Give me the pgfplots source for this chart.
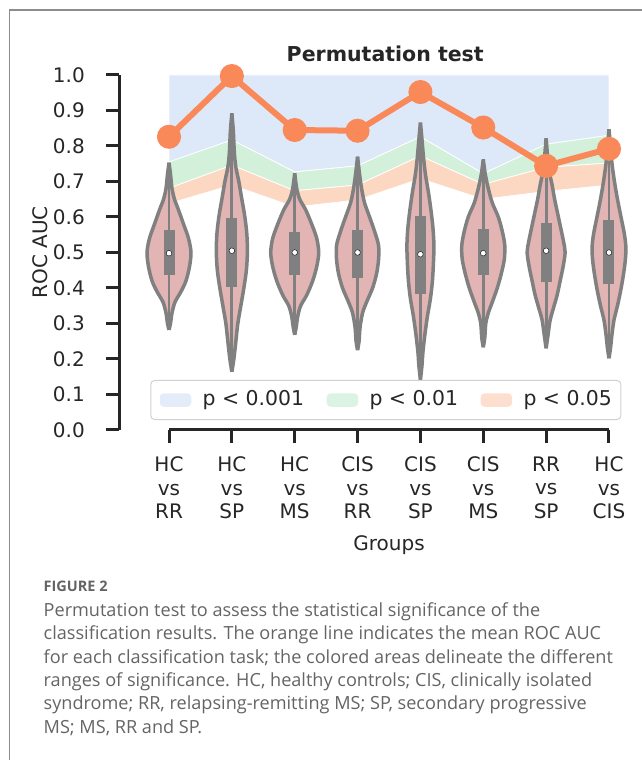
\documentclass[border=0pt]{standalone}
\usepackage{fontspec}
\setmainfont{DejaVu Sans}
\newfontfamily\capfont{Open Sans}
\usepackage{pgfplots}
\usepackage{pgfplotstable}
\pgfplotsset{compat=1.18}

\definecolor{txt}{RGB}{38,38,38}
\definecolor{bandblue}{RGB}{221,233,248}
\definecolor{bandgreen}{RGB}{211,240,219}
\definecolor{bandorange}{RGB}{252,216,194}
\definecolor{vfill}{RGB}{226,180,180}
\definecolor{vgray}{RGB}{128,128,128}
\definecolor{lineorange}{RGB}{250,137,90}
\definecolor{capgray}{RGB}{100,100,100}
\definecolor{framegray}{RGB}{140,140,140}

% violin outlines: y, right x, left x
\pgfplotstableread{
y xr xl
0.282 1 1
0.30 1.024 0.976
0.33 1.048 0.952
0.36 1.095 0.905
0.39 1.191 0.809
0.42 1.270 0.730
0.46 1.326 0.674
0.50 1.350 0.650
0.54 1.310 0.690
0.58 1.231 0.769
0.62 1.151 0.849
0.65 1.087 0.913
0.68 1.048 0.952
0.72 1.024 0.976
0.753 1 1
}\vA
\pgfplotstableread{
y xr xl
0.164 2 2
0.20 2.032 1.968
0.25 2.064 1.936
0.30 2.095 1.905
0.35 2.143 1.857
0.40 2.191 1.809
0.45 2.231 1.769
0.50 2.247 1.753
0.55 2.239 1.761
0.60 2.207 1.793
0.65 2.159 1.841
0.70 2.111 1.889
0.74 2.064 1.936
0.78 2.040 1.960
0.84 2.024 1.976
0.892 2 2
}\vB
\pgfplotstableread{
y xr xl
0.268 3 3
0.29 3.024 2.976
0.32 3.048 2.952
0.35 3.095 2.905
0.38 3.191 2.809
0.42 3.286 2.714
0.46 3.350 2.650
0.50 3.382 2.618
0.54 3.350 2.650
0.58 3.270 2.730
0.62 3.175 2.825
0.65 3.080 2.920
0.68 3.032 2.968
0.723 3 3
}\vC
\pgfplotstableread{
y xr xl
0.225 4 4
0.25 4.024 3.976
0.29 4.040 3.960
0.33 4.080 3.920
0.36 4.143 3.857
0.40 4.239 3.761
0.44 4.302 3.698
0.48 4.334 3.666
0.52 4.334 3.666
0.56 4.270 3.730
0.60 4.191 3.809
0.64 4.111 3.889
0.68 4.064 3.936
0.72 4.032 3.968
0.77 4 4
}\vD
\pgfplotstableread{
y xr xl
0.141 5 5
0.18 5.024 4.976
0.22 5.040 4.960
0.27 5.072 4.928
0.32 5.111 4.889
0.37 5.159 4.841
0.42 5.191 4.809
0.47 5.207 4.793
0.52 5.215 4.785
0.57 5.199 4.801
0.62 5.167 4.833
0.67 5.127 4.873
0.72 5.080 4.920
0.77 5.048 4.952
0.82 5.024 4.976
0.866 5 5
}\vE
\pgfplotstableread{
y xr xl
0.233 6 6
0.26 6.024 5.976
0.30 6.040 5.960
0.33 6.080 5.920
0.36 6.143 5.857
0.40 6.223 5.777
0.44 6.286 5.714
0.48 6.334 5.666
0.52 6.342 5.658
0.56 6.302 5.698
0.60 6.239 5.761
0.64 6.143 5.857
0.68 6.080 5.920
0.72 6.032 5.968
0.762 6 6
}\vF
\pgfplotstableread{
y xr xl
0.230 7 7
0.27 7.032 6.968
0.31 7.064 6.936
0.34 7.111 6.889
0.38 7.175 6.825
0.42 7.223 6.777
0.46 7.270 6.730
0.50 7.302 6.698
0.53 7.278 6.722
0.57 7.231 6.769
0.61 7.183 6.817
0.65 7.135 6.865
0.69 7.095 6.905
0.73 7.048 6.952
0.77 7.024 6.976
0.822 7 7
}\vG
\pgfplotstableread{
y xr xl
0.202 8 8
0.23 8.024 7.976
0.27 8.048 7.952
0.31 8.080 7.920
0.35 8.135 7.865
0.39 8.183 7.817
0.43 8.223 7.777
0.47 8.255 7.745
0.51 8.270 7.730
0.55 8.247 7.753
0.60 8.191 7.809
0.65 8.135 7.865
0.70 8.087 7.913
0.75 8.048 7.952
0.80 8.024 7.976
0.847 8 8
}\vH

\pgfplotsset{
  vfillstyle/.style={forget plot, smooth, fill=vfill, draw=none},
  vlinestyle/.style={forget plot, smooth, vgray, line width=3.5pt, line join=round},
}

\begin{document}
\begin{tikzpicture}[x=1pt,y=1pt]
% outer frame
\draw[framegray, line width=1.5pt] (9.5,-5) -- (9.5,750) -- (650,750);

\begin{axis}[
  at={(119pt,330pt)}, anchor=south west,
  scale only axis, width=521.4pt, height=355pt,
  xmin=0.2045, xmax=8.5, ymin=0, ymax=1,
  clip=false,
  axis x line=bottom, axis y line=left,
  axis line style={-, line width=3pt, txt},
  x axis line style={draw=none},
  tick align=outside,
  major tick length=13pt,
  tick style={line width=3pt, txt},
  xtick={1,2,3,4,5,6,7,8},
  xticklabels={{HC\\vs\\RR},{HC\\vs\\SP},{HC\\vs\\MS},{CIS\\vs\\RR},{CIS\\vs\\SP},{CIS\\vs\\MS},{RR\\vs\\SP},{HC\\vs\\CIS}},
  xticklabel style={align=center, inner sep=0pt, anchor=north, yshift=-13.5pt, text=txt,
    font=\fontsize{20}{23.5}\selectfont},
  ytick={0,0.1,0.2,0.3,0.4,0.5,0.6,0.7,0.8,0.9,1.0},
  yticklabels={0.0,0.1,0.2,0.3,0.4,0.5,0.6,0.7,0.8,0.9,1.0},
  yticklabel style={inner sep=0pt, anchor=east, xshift=-21pt, text=txt,
    font=\fontsize{20}{24}\selectfont},
  xlabel={Groups},
  xlabel style={at={(axis cs:4.5,0)}, anchor=base, yshift=-121pt, text=txt,
    font=\fontsize{20}{24}\selectfont},
  title={Permutation test},
  title style={at={(axis cs:4.44,1)}, anchor=base, yshift=7pt, text=txt,
    font=\fontsize{20.5}{24}\selectfont\bfseries},
  legend columns=3,
  legend image code/.code={\fill[#1, draw=none] (0pt,-6.75pt) rectangle (31.5pt,6.75pt); \path (42.5pt,0pt);},
  legend style={at={(axis cs:4.45,0.028)}, anchor=south,
    draw=black!18, line width=1pt, rounded corners=4pt,
    fill=white, fill opacity=0.8, text opacity=1,
    inner xsep=9pt, inner ysep=10pt,
    column sep=0pt,
    /tikz/every even column/.append style={column sep=22.6pt},
    nodes={inner sep=0pt, text height=14.6pt, text depth=4.5pt, text=txt},
    font=\fontsize{20.4}{24}\selectfont},
]
% significance bands
\addplot[fill=bandblue, draw=white, line width=0.8pt] coordinates {
(1,1) (2,1) (3,1) (4,1) (5,1) (6,1) (7,1) (8,1)
(8,0.830) (7,0.805) (6,0.722) (5,0.826) (4,0.744) (3,0.727) (2,0.817) (1,0.755)} -- cycle;
\addlegendentry{p < 0.001}
\addplot[fill=bandgreen, draw=white, line width=0.8pt] coordinates {
(1,0.755) (2,0.817) (3,0.727) (4,0.744) (5,0.826) (6,0.722) (7,0.805) (8,0.830)
(8,0.752) (7,0.740) (6,0.692) (5,0.772) (4,0.690) (3,0.674) (2,0.746) (1,0.681)} -- cycle;
\addlegendentry{p < 0.01}
\addplot[fill=bandorange, draw=white, line width=0.8pt] coordinates {
(1,0.681) (2,0.746) (3,0.674) (4,0.690) (5,0.772) (6,0.692) (7,0.740) (8,0.752)
(8,0.690) (7,0.672) (6,0.650) (5,0.708) (4,0.648) (3,0.628) (2,0.690) (1,0.638)} -- cycle;
\addlegendentry{p < 0.05}

% violins: fill halves
\addplot[vfillstyle] table[x=xr, y=y] {\vA};
\addplot[vfillstyle] table[x=xl, y=y] {\vA};
\addplot[vfillstyle] table[x=xr, y=y] {\vB};
\addplot[vfillstyle] table[x=xl, y=y] {\vB};
\addplot[vfillstyle] table[x=xr, y=y] {\vC};
\addplot[vfillstyle] table[x=xl, y=y] {\vC};
\addplot[vfillstyle] table[x=xr, y=y] {\vD};
\addplot[vfillstyle] table[x=xl, y=y] {\vD};
\addplot[vfillstyle] table[x=xr, y=y] {\vE};
\addplot[vfillstyle] table[x=xl, y=y] {\vE};
\addplot[vfillstyle] table[x=xr, y=y] {\vF};
\addplot[vfillstyle] table[x=xl, y=y] {\vF};
\addplot[vfillstyle] table[x=xr, y=y] {\vG};
\addplot[vfillstyle] table[x=xl, y=y] {\vG};
\addplot[vfillstyle] table[x=xr, y=y] {\vH};
\addplot[vfillstyle] table[x=xl, y=y] {\vH};
% whiskers
\addplot[forget plot, vgray, line width=2.8pt, unbounded coords=jump] coordinates {
(1,0.282) (1,0.753) (1,nan)
(2,0.164) (2,0.892) (2,nan)
(3,0.268) (3,0.723) (3,nan)
(4,0.225) (4,0.770) (4,nan)
(5,0.141) (5,0.866) (5,nan)
(6,0.233) (6,0.762) (6,nan)
(7,0.230) (7,0.822) (7,nan)
(8,0.202) (8,0.847)};
% outlines
\addplot[vlinestyle] table[x=xr, y=y] {\vA};
\addplot[vlinestyle] table[x=xl, y=y] {\vA};
\addplot[vlinestyle] table[x=xr, y=y] {\vB};
\addplot[vlinestyle] table[x=xl, y=y] {\vB};
\addplot[vlinestyle] table[x=xr, y=y] {\vC};
\addplot[vlinestyle] table[x=xl, y=y] {\vC};
\addplot[vlinestyle] table[x=xr, y=y] {\vD};
\addplot[vlinestyle] table[x=xl, y=y] {\vD};
\addplot[vlinestyle] table[x=xr, y=y] {\vE};
\addplot[vlinestyle] table[x=xl, y=y] {\vE};
\addplot[vlinestyle] table[x=xr, y=y] {\vF};
\addplot[vlinestyle] table[x=xl, y=y] {\vF};
\addplot[vlinestyle] table[x=xr, y=y] {\vG};
\addplot[vlinestyle] table[x=xl, y=y] {\vG};
\addplot[vlinestyle] table[x=xr, y=y] {\vH};
\addplot[vlinestyle] table[x=xl, y=y] {\vH};
% IQR boxes
\addplot[forget plot, vgray, line width=11pt, unbounded coords=jump] coordinates {
(1,0.437) (1,0.563) (1,nan)
(2,0.404) (2,0.596) (2,nan)
(3,0.437) (3,0.559) (3,nan)
(4,0.427) (4,0.563) (4,nan)
(5,0.383) (5,0.603) (5,nan)
(6,0.437) (6,0.565) (6,nan)
(7,0.418) (7,0.584) (7,nan)
(8,0.410) (8,0.592)};
% medians
\addplot[forget plot, only marks, mark=*, mark size=2.8pt, mark options={fill=white, draw=none}] coordinates {
(1,0.498) (2,0.505) (3,0.500) (4,0.500) (5,0.495) (6,0.498) (7,0.505) (8,0.500)};

% mean ROC AUC line
\addplot[forget plot, lineorange, line width=6pt, mark=*, mark size=9pt,
  mark options={fill=lineorange, draw=none}] coordinates {
(1,0.826) (2,0.997) (3,0.845) (4,0.843) (5,0.952) (6,0.852) (7,0.744) (8,0.792)};

% trimmed x spine
\draw[txt, line width=3pt] (axis cs:1,0) -- (axis cs:8,0);
% y axis label
\node[rotate=90, anchor=base, inner sep=0pt, text=txt, font=\fontsize{20}{24}\selectfont]
  at (axis cs:-0.941,0.5) {ROC AUC};
\end{axis}

% caption
\node[anchor=base west, inner sep=0pt, text=capgray, font=\capfont\fontsize{14.5}{16}\selectfont\bfseries] at (43.5,168.3) {FIGURE 2};
\begin{scope}[every node/.style={anchor=base west, inner sep=0pt, text=capgray, font=\capfont\fontsize{18.1}{20}\selectfont}]
\node at (43.5,143.3) {Permutation test to assess the statistical significance of the};
\node at (43.5,120.0) {classification results. The orange line indicates the mean ROC AUC};
\node at (43.5,96.7) {for each classification task; the colored areas delineate the different};
\node at (43.5,73.3) {ranges of significance. HC, healthy controls; CIS, clinically isolated};
\node at (43.5,50.0) {syndrome; RR, relapsing-remitting MS; SP, secondary progressive};
\node at (43.5,26.0) {MS; MS, RR and SP.};
\end{scope}

\pgfresetboundingbox
\path[use as bounding box] (0,0) rectangle (641,760);
\end{tikzpicture}
\end{document}
